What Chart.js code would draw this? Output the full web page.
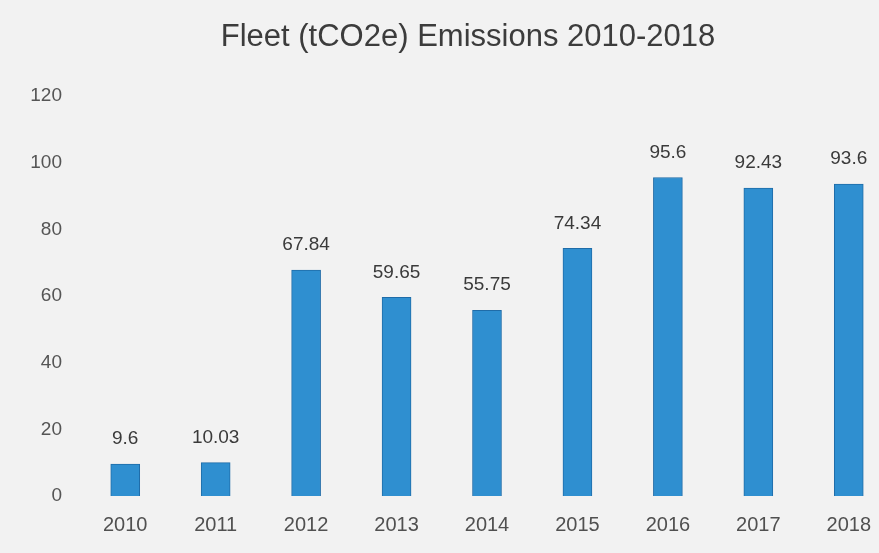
<!DOCTYPE html>
<html>
<head>
<meta charset="utf-8">
<script src="https://cdn.jsdelivr.net/npm/chart.js@4.4.1/dist/chart.umd.min.js"></script>
<style>
  html, body { margin: 0; padding: 0; overflow: hidden; background: #f2f2f2; }
  #wrap { width: 936px; height: 553px; }
</style>
</head>
<body>
<div id="wrap"><canvas id="myChart" width="936" height="553"></canvas></div>
<script>
const years = ['2010', '2011', '2012', '2013', '2014', '2015', '2016', '2017', '2018']
const emissions = [9.6, 10.03, 67.84, 59.65, 55.75, 74.34, 95.6, 92.43, 93.6]
const yTicks = [0, 20, 40, 60, 80, 100, 120]

// draws the number above each bar
const valueLabels = {
  id: 'valueLabels',
  afterDatasetsDraw(chart) {
    const ctx = chart.ctx
    const meta = chart.getDatasetMeta(0)
    ctx.save()
    ctx.font = '19px "Liberation Sans", Arial, sans-serif'
    ctx.fillStyle = '#3a3a3a'
    ctx.textAlign = 'center'
    ctx.textBaseline = 'middle'
    meta.data.forEach((bar, i) => {
      ctx.fillText(String(emissions[i]), bar.x, bar.y - 25)
    })
    ctx.restore()
  }
}

const ctx = document.getElementById('myChart')
const chart = new Chart(ctx, {
  type: 'bar',
  data: {
    labels: years,
    datasets: [{
      label: 'Fleet (tCO2e)',
      data: emissions,
      backgroundColor: '#2f8fd0',
      borderColor: '#1f6ca8',
      borderWidth: 1,
      barThickness: 29
    }]
  },
  options: {
    responsive: false,
    animation: false,
    layout: { padding: 0 },
    plugins: {
      legend: { display: false },
      tooltip: { enabled: false },
      title: {
        display: true,
        text: 'Fleet (tCO2e) Emissions 2010-2018',
        color: '#3c3c3c',
        font: { family: '"Liberation Sans", Arial, sans-serif', size: 31, weight: 'normal' },
        padding: { top: 19, bottom: 40 }
      }
    },
    scales: {
      x: {
        grid: { display: false, drawTicks: false },
        border: { display: false },
        ticks: {
          color: '#505050',
          padding: 17,
          font: { family: '"Liberation Sans", Arial, sans-serif', size: 20 }
        },
        afterFit: (scale) => { scale.height = 57 }
      },
      y: {
        min: 0,
        max: 120,
        afterBuildTicks: (scale) => { scale.ticks = yTicks.map(v => ({ value: v })) },
        grid: { display: false, drawTicks: false },
        border: { display: false },
        ticks: {
          color: '#555555',
          padding: 18,
          font: { family: '"Liberation Sans", Arial, sans-serif', size: 19 }
        },
        afterFit: (scale) => { scale.width = 80 }
      },
      // empty right axis, only reserves the space past the cropped edge
      yRight: {
        position: 'right',
        grid: { display: false, drawTicks: false },
        border: { display: false },
        ticks: { display: false },
        afterFit: (scale) => { scale.width = 42 }
      }
    }
  },
  plugins: [valueLabels]
})
</script>
</body>
</html>
